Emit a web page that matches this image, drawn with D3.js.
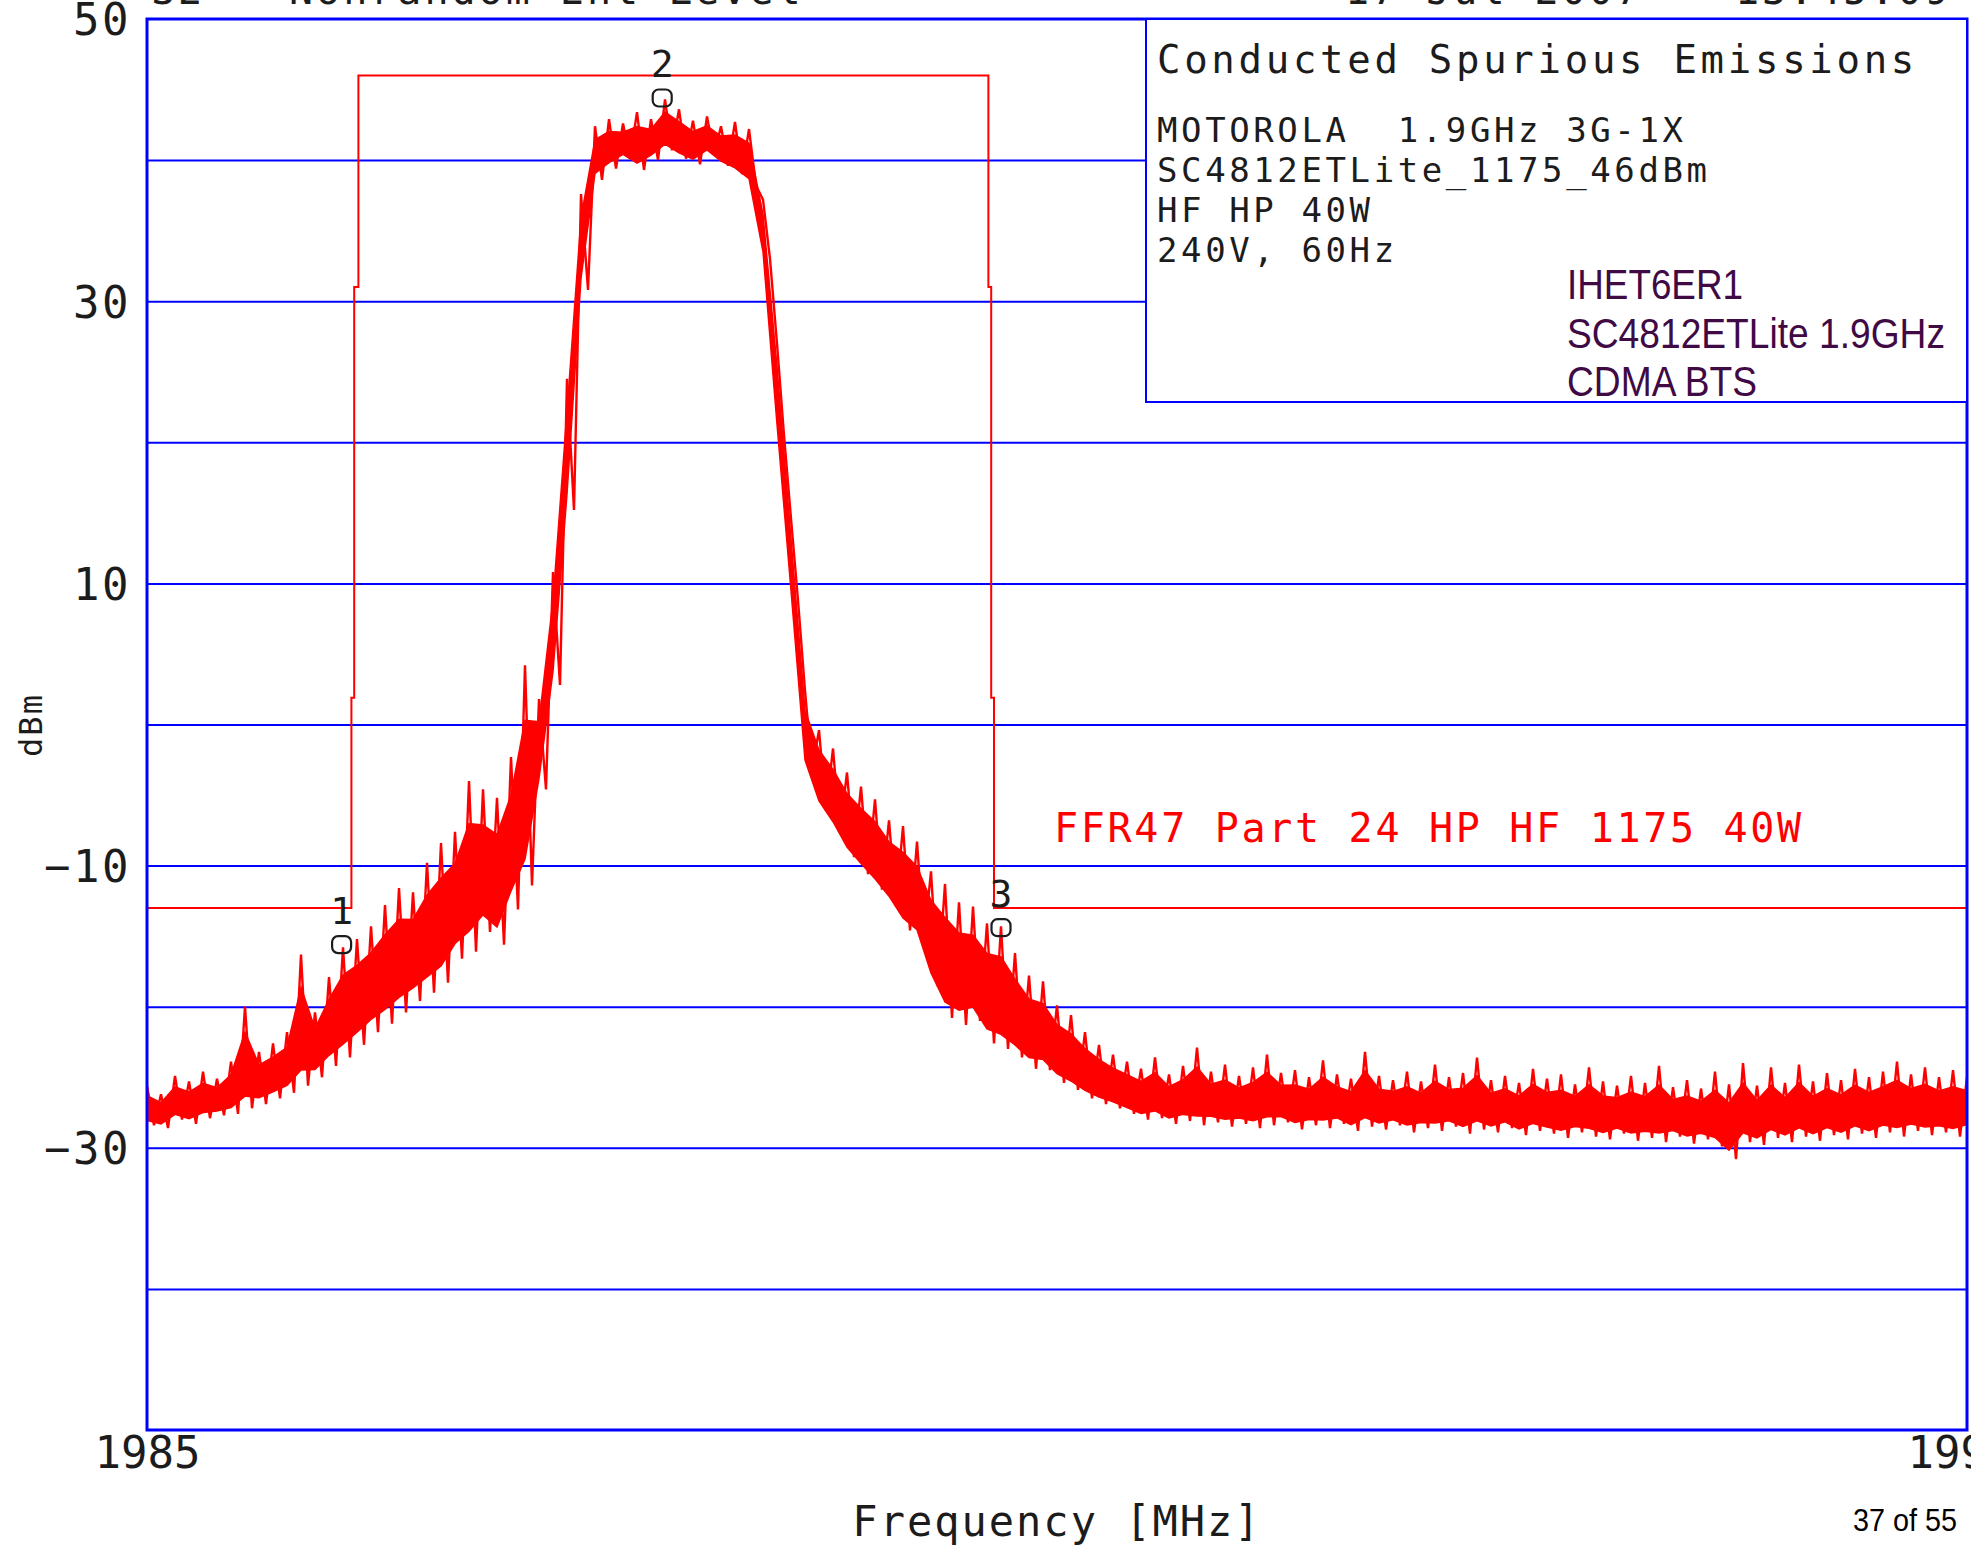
<!DOCTYPE html>
<html>
<head>
<meta charset="utf-8">
<script src="https://cdn.jsdelivr.net/npm/d3@7"></script>
<style>
  body { margin: 0; background: #fff; }
  svg { display: block; }
  .plotter { font-family: "DejaVu Sans Mono", monospace; fill: #1c1c1c; white-space: pre; }
  .grid line { stroke: #0000ff; stroke-width: 2; }
  .grid path, .axis path { display: none; }
</style>
</head>
<body>
<svg id="chart" width="1971" height="1553"></svg>
<script>
// spectrum analyser sweep, 0.1 MHz bins, upper / lower edge of the noisy trace (dBm)
const freqStart = 1985;
const freqStep = 0.1;
const traceHigh = [
  -25.6, -26.2, -24.9, -25.3, -24.6, -25.1, -23.9, -20.0, -23.2, -22.6,
  -21.8, -16.3, -20.4, -17.9, -15.8, -15.2, -14.3, -12.8, -11.6, -11.9,
  -9.8, -8.4, -7.6, -4.0, -4.6, -5.2, -2.3, 4.2, 1.8, 10.8,
  24.5, 37.6, 42.4, 42.9, 42.6, 43.4, 42.9, 44.3, 43.6, 42.8,
  43.1, 42.4, 42.7, 42.2, 37.2, 27.0, 14.6, 2.4, -0.4, -1.7,
  -3.4, -4.4, -5.3, -6.8, -7.2, -8.3, -10.4, -11.3, -12.6, -12.9,
  -14.1, -14.3, -16.2, -17.8, -18.2, -19.9, -20.6, -21.8, -22.7, -23.4,
  -23.9, -24.4, -23.6, -24.8, -24.2, -22.9, -24.6, -24.1, -24.9, -24.3,
  -23.4, -24.7, -24.5, -25.0, -23.8, -24.8, -25.1, -23.2, -24.9, -25.2,
  -24.6, -25.3, -24.1, -25.0, -24.7, -23.6, -25.2, -24.9, -25.4, -24.4,
  -25.1, -24.8, -25.5, -24.3, -25.3, -25.6, -24.9, -25.4, -24.2, -25.7,
  -25.2, -25.8, -24.6, -25.5, -24.0, -25.6, -24.3, -25.4, -24.1, -25.3,
  -24.7, -25.2, -24.4, -25.0, -24.6, -23.9, -24.8, -24.3, -25.0, -24.5,
  -25.0
];
const traceLow = [
  -28.4, -28.6, -28.0, -28.3, -27.9, -27.7, -27.6, -27.2, -26.9, -26.5,
  -26.1, -25.6, -25.0, -24.2, -23.6, -22.7, -21.8, -21.2, -20.4, -19.6,
  -19.0, -18.3, -16.6, -16.1, -14.7, -15.6, -13.1, -11.4, -4.6, 2.8,
  15.2, 30.8, 38.6, 39.4, 40.1, 39.3, 40.0, 40.7, 40.1, 39.7,
  40.4, 39.6, 39.0, 38.2, 33.0, 20.5, 8.8, -3.2, -6.1, -7.6,
  -9.4, -10.6, -11.7, -12.9, -14.6, -15.4, -18.6, -20.8, -21.3, -21.0,
  -22.6, -23.0, -23.6, -24.4, -24.5, -25.4, -25.9, -26.5, -26.9, -27.2,
  -27.6, -28.0, -27.9, -28.3, -28.1, -28.4, -28.2, -28.5, -28.3, -28.6,
  -28.4, -28.2, -28.7, -28.4, -28.6, -28.3, -28.8, -28.5, -28.7, -28.4,
  -28.9, -28.6, -28.8, -28.5, -29.0, -28.7, -28.9, -28.6, -29.1, -28.8,
  -29.0, -29.3, -28.9, -29.2, -29.4, -29.0, -29.5, -29.3, -29.6, -29.2,
  -29.7, -29.4, -29.9, -30.8, -29.6, -29.8, -29.3, -29.6, -29.2, -29.5,
  -29.1, -29.4, -29.0, -29.3, -28.9, -29.2, -28.8, -29.1, -28.9, -29.2,
  -28.8
];

// FCC Part 24 emission mask
const maskFreq  = [1985, 1985, 1986.46, 1986.46, 1986.48, 1986.48, 1986.51, 1986.51,
                   1991.01, 1991.01, 1991.03, 1991.03, 1991.05, 1991.05, 1998];
const maskLevel = [-10, -13, -13, 1.9, 1.9, 31, 31, 46, 46, 31, 31, 1.9, 1.9, -13, -13];

// markers
const markerNames = ["1", "2", "3"];
const markerFreq  = [1986.39, 1988.68, 1991.10];
const markerLevel = [-15.6, 44.4, -14.4];

const yTickLabels = [50, 30, 10, -10, -30];
const yGridValues = [40, 30, 20, 10, 0, -10, -20, -30, -40];
const xTickLabels = [1985, 1998];

const boxTitle = "Conducted Spurious Emissions";
const boxLines = ["MOTOROLA  1.9GHz 3G-1X", "SC4812ETLite_1175_46dBm", "HF HP 40W", "240V, 60Hz"];
const noteLines = ["IHET6ER1", "SC4812ETLite 1.9GHz", "CDMA BTS"];
const noteWidths = [176, 378, 190];
const limitLabel = "FFR47 Part 24 HP HF 1175 40W";
const headerLeft = ["S2", "Nonrandom Ent Level"];
const headerRight = ["17 Jul 2007", "13:45:09"];

const plot = { left: 147, right: 1967, top: 19, bottom: 1430 };

const svg = d3.select("#chart");

const x = d3.scaleLinear().domain([1985, 1998]).range([plot.left, plot.right]);
const y = d3.scaleLinear().domain([-50, 50]).range([plot.bottom, plot.top]);

/////////////////////////////////////////////////////////
// GRID

svg.append("g")
  .attr("class", "grid")
  .attr("transform", `translate(${plot.left},0)`)
  .call(d3.axisLeft(y).tickValues(yGridValues).tickSize(-(plot.right - plot.left)).tickFormat(""));

svg.append("clipPath").attr("id", "plotClip")
  .append("rect")
  .attr("x", plot.left).attr("y", plot.top)
  .attr("width", plot.right - plot.left).attr("height", plot.bottom - plot.top);

/////////////////////////////////////////////////////////
// TRACE

const traceFreq = traceHigh.map((d, i) => freqStart + i * freqStep);

// dense core of the noise band, then the spikes on top of it
const core = d3.area()
  .x((d, i) => x(traceFreq[i]))
  .y0((d, i) => y(traceLow[i] + 0.12 * (traceHigh[i] - traceLow[i])))
  .y1((d, i) => y(traceHigh[i] - 0.25 * (traceHigh[i] - traceLow[i])));

svg.append("path")
  .datum(traceFreq)
  .attr("clip-path", "url(#plotClip)")
  .attr("fill", "#ff0000")
  .attr("stroke", "#ff0000")
  .attr("stroke-width", 1.5)
  .attr("d", core);

const zigzag = [];
traceFreq.forEach((f, i) => {
  zigzag.push([f, traceHigh[i]]);
  zigzag.push([f + freqStep / 2, traceLow[i]]);
});

const line = d3.line().x(d => x(d[0])).y(d => y(d[1]));

svg.append("path")
  .datum(zigzag)
  .attr("clip-path", "url(#plotClip)")
  .attr("fill", "none")
  .attr("stroke", "#ff0000")
  .attr("stroke-width", 2.4)
  .attr("stroke-linejoin", "miter")
  .attr("d", line);

svg.append("path")
  .datum(maskFreq.map((f, i) => [f, maskLevel[i]]))
  .attr("clip-path", "url(#plotClip)")
  .attr("fill", "none")
  .attr("stroke", "#ff0000")
  .attr("stroke-width", 2)
  .attr("d", line);

/////////////////////////////////////////////////////////
// FRAME + LEGEND BOX

svg.append("rect")
  .attr("x", plot.left).attr("y", plot.top)
  .attr("width", plot.right - plot.left).attr("height", plot.bottom - plot.top)
  .attr("fill", "none").attr("stroke", "#0000ff").attr("stroke-width", 3);

const boxLeft = 1146, boxBottom = 402;
svg.append("rect")
  .attr("x", boxLeft).attr("y", plot.top)
  .attr("width", plot.right - boxLeft).attr("height", boxBottom - plot.top)
  .attr("fill", "#fff").attr("stroke", "#0000ff").attr("stroke-width", 2);

svg.append("text").attr("class", "plotter")
  .attr("x", 1157).attr("y", 73)
  .style("font-size", "39px").style("letter-spacing", "3.7px")
  .text(boxTitle);

svg.selectAll("text.boxLine").data(boxLines).enter().append("text")
  .attr("class", "plotter boxLine")
  .attr("x", 1157).attr("y", (d, i) => 142 + i * 40)
  .style("font-size", "34px").style("letter-spacing", "3.6px")
  .text(d => d);

svg.selectAll("text.note").data(noteLines).enter().append("text")
  .attr("class", "note")
  .attr("x", 1567).attr("y", (d, i) => 299 + i * 48.5)
  .attr("textLength", (d, i) => noteWidths[i])
  .attr("lengthAdjust", "spacingAndGlyphs")
  .style("font-family", "'Liberation Sans', Arial, sans-serif")
  .style("font-size", "42px")
  .attr("fill", "#400a45")
  .text(d => d);

/////////////////////////////////////////////////////////
// AXES

const yAxis = svg.append("g")
  .attr("class", "axis")
  .attr("transform", `translate(${plot.left},0)`)
  .call(d3.axisLeft(y).tickValues(yTickLabels).tickSize(0).tickPadding(16).tickFormat(d3.format("d")));

yAxis.selectAll("text")
  .attr("class", "plotter")
  .attr("dy", "0.36em")
  .style("font-size", "44px").style("letter-spacing", "2.5px");

const xAxis = svg.append("g")
  .attr("class", "axis")
  .attr("transform", `translate(0,${plot.bottom})`)
  .call(d3.axisBottom(x).tickValues(xTickLabels).tickSize(0).tickPadding(7).tickFormat(d3.format("d")));

xAxis.selectAll("text")
  .attr("class", "plotter")
  .attr("dx", d => d === 1998 ? -7 : 0)
  .style("font-size", "44px").style("letter-spacing", "0px");

svg.append("text").attr("class", "plotter")
  .attr("transform", "translate(42,725) rotate(-90)")
  .attr("text-anchor", "middle")
  .style("font-size", "32px").style("letter-spacing", "2px")
  .text("dBm");

svg.append("text").attr("class", "plotter")
  .attr("x", (plot.left + plot.right) / 2).attr("y", 1536)
  .attr("text-anchor", "middle")
  .style("font-size", "42px").style("letter-spacing", "2px")
  .text("Frequency [MHz]");

svg.append("text")
  .attr("x", 1853).attr("y", 1531)
  .attr("textLength", 104).attr("lengthAdjust", "spacingAndGlyphs")
  .style("font-family", "'Liberation Sans', Arial, sans-serif")
  .style("font-size", "31px")
  .text("37 of 55");

// header, mostly cut off by the page edge
const header = [[151, headerLeft[0]], [289, headerLeft[1]], [1345, headerRight[0]], [1735, headerRight[1]]];
svg.selectAll("text.header").data(header).enter().append("text")
  .attr("class", "plotter header")
  .attr("x", d => d[0]).attr("y", 4)
  .style("font-size", "40px").style("letter-spacing", "3px")
  .text(d => d[1]);

/////////////////////////////////////////////////////////
// LIMIT LABEL + MARKERS

svg.append("text").attr("class", "plotter")
  .attr("x", 1054).attr("y", 842)
  .style("fill", "#ff0000")
  .style("font-size", "40px").style("letter-spacing", "2.7px")
  .text(limitLabel);

const markers = svg.selectAll("g.marker").data(markerNames).enter().append("g")
  .attr("class", "marker")
  .attr("transform", (d, i) => `translate(${x(markerFreq[i])},${y(markerLevel[i])})`);

markers.append("rect")
  .attr("x", -9.5).attr("y", -8.5).attr("width", 19).attr("height", 17).attr("rx", 6)
  .attr("fill", "none").attr("stroke", "#1c1c1c").attr("stroke-width", 2.2);

markers.append("text").attr("class", "plotter")
  .attr("y", -21).attr("text-anchor", "middle")
  .style("font-size", "38px")
  .text(d => d);
</script>
</body>
</html>
